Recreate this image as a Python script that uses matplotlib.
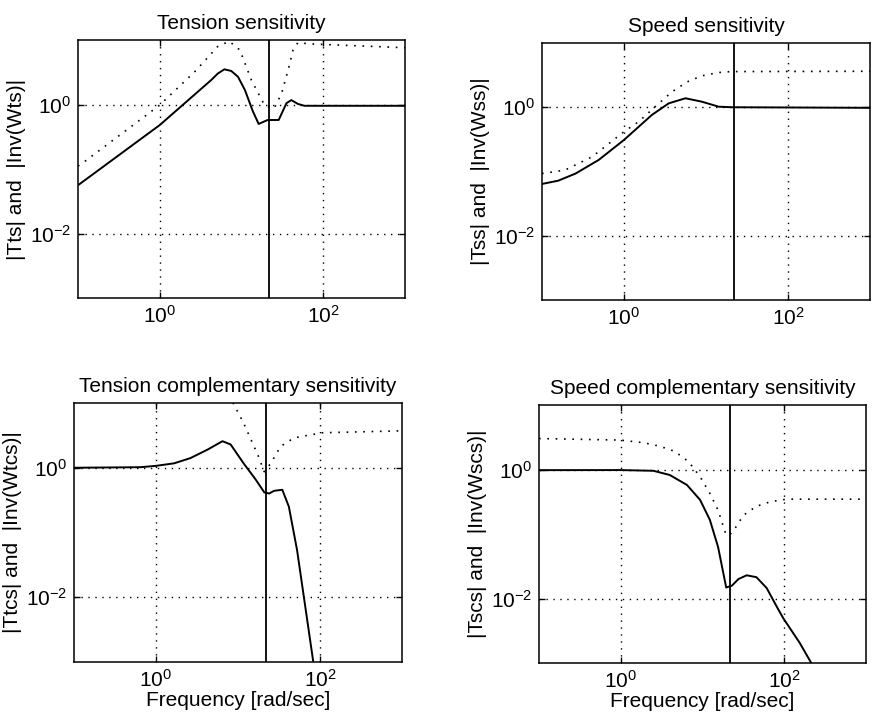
import numpy as np
import matplotlib
matplotlib.use('Agg')
import matplotlib.pyplot as plt
from matplotlib.ticker import FixedLocator, LogFormatterMathtext, NullLocator

plt.rcParams['font.family'] = ['Liberation Sans', 'DejaVu Sans']
plt.rcParams['mathtext.fontset'] = 'custom'
plt.rcParams['mathtext.rm'] = 'Liberation Sans'
plt.rcParams['mathtext.it'] = 'Liberation Sans:italic'

# bandwidth marker [rad/sec]
w_marker = 22.0

# Tension sensitivity
ts_w = [0.1, 1.0, 4.27, 5.13, 6.17, 7.5, 9.06, 11.0, 13.8, 16.2, 20.9, 28.5, 35.5, 40.7, 49.0, 58.9, 1000]
ts_mag = [0.056, 0.48, 2.4, 3.02, 3.51, 3.31, 2.69, 1.68, 0.78, 0.50, 0.575, 0.575, 1.05, 1.17, 1.02, 0.955, 0.955]
wts_w = [0.1, 0.12, 1.0, 2.69, 5.13, 7.08, 9.55, 13.2, 19.1, 25.1, 30.9, 37.2, 42.7, 49.0, 67.6, 1000]
wts_mag = [0.111, 0.130, 0.98, 3.24, 7.94, 9.55, 7.0, 2.40, 0.98, 0.87, 1.48, 3.43, 7.0, 9.12, 8.71, 7.59]

# Speed sensitivity
ss_w = [0.1, 0.158, 0.257, 0.49, 1.0, 2.19, 3.51, 5.62, 8.91, 14.3, 20.9, 1000]
ss_mag = [0.064, 0.072, 0.093, 0.151, 0.31, 0.76, 1.15, 1.38, 1.22, 1.02, 1.0, 0.98]
wss_w = [0.1, 0.19, 0.41, 1.0, 1.51, 2.40, 3.85, 5.89, 8.91, 14.3, 20.0, 1000]
wss_mag = [0.093, 0.105, 0.17, 0.417, 0.596, 1.02, 1.74, 2.48, 3.09, 3.47, 3.59, 3.63]

# Tension complementary sensitivity
tcs_w = [0.1, 0.65, 1.0, 1.66, 2.63, 4.27, 6.46, 8.13, 11.7, 16.4, 20.9, 24.0, 27.5, 34.7, 41.7, 52.5, 82.2, 126]
tcs_mag = [1.0, 1.02, 1.07, 1.17, 1.41, 1.91, 2.57, 2.29, 1.17, 0.66, 0.417, 0.40, 0.44, 0.457, 0.251, 0.0537,
           0.00107, 0.0000316]
wtcs_w = [6.31, 8.71, 11.6, 14.7, 17.7, 20.9, 25.1, 33.1, 47.9, 70.0, 107, 1000]
wtcs_mag = [22.4, 10.0, 5.01, 2.57, 1.51, 0.87, 1.17, 2.14, 2.88, 3.16, 3.47, 3.72]

# Speed complementary sensitivity
scs_w = [0.1, 0.98, 2.51, 3.98, 6.46, 9.33, 12.3, 15.5, 19.5, 22.9, 27.5, 34.7, 45.7, 61.0, 81.3, 97.7, 155, 214, 316]
scs_mag = [0.977, 0.98, 0.955, 0.822, 0.575, 0.339, 0.166, 0.063, 0.0148, 0.0158, 0.020, 0.0229, 0.0214, 0.0145,
           0.0074, 0.0049, 0.00204, 0.0010, 0.00045]
wscs_w = [0.1, 0.98, 1.91, 3.02, 4.57, 6.76, 9.33, 12.3, 15.5, 19.5, 22.4, 25.1, 31.6, 45.7, 67.6, 107, 1000]
wscs_mag = [3.02, 2.86, 2.60, 2.29, 1.91, 1.32, 0.776, 0.427, 0.234, 0.0955, 0.102, 0.123, 0.195, 0.269, 0.316,
            0.347, 0.347]

titles = ['Tension sensitivity', 'Speed sensitivity',
          'Tension complementary sensitivity', 'Speed complementary sensitivity']
ylabels = ['|Tts| and  |Inv(Wts)|', '|Tss| and  |Inv(Wss)|',
           '|Ttcs| and  |Inv(Wtcs)|', '|Tscs| and  |Inv(Wscs)|']
xticks = [1e0, 1e2]
yticks = [1e-2, 1e0]

panels = [(ts_w, ts_mag, wts_w, wts_mag), (ss_w, ss_mag, wss_w, wss_mag),
          (tcs_w, tcs_mag, wtcs_w, wtcs_mag), (scs_w, scs_mag, wscs_w, wscs_mag)]

# axes boxes in pixels (left, top, right, bottom)
boxes = [(78, 40, 405, 298), (542, 43, 870, 300), (74, 403, 402, 662), (539, 405, 866, 663)]

W, H = 873, 724
fig = plt.figure(figsize=(W / 100, H / 100), dpi=100)
dot = (0, (1, 4))
fs = 15

for i, (box, data) in enumerate(zip(boxes, panels)):
    l, t, r, b = box
    ax = fig.add_axes([l / W, (H - b) / H, (r - l) / W, (b - t) / H])
    tw, tm, iw, im = data
    ax.loglog(tw, tm, color='k', lw=1.4)
    ax.loglog(iw, im, color='k', lw=1.2, linestyle=dot)
    ax.axvline(w_marker, color='k', lw=1.3)
    ax.set_xlim(1e-1, 1e3)
    ax.set_ylim(1e-3, 1e1)
    ax.xaxis.set_major_locator(FixedLocator(xticks))
    ax.yaxis.set_major_locator(FixedLocator(yticks))
    ax.xaxis.set_major_formatter(LogFormatterMathtext())
    ax.yaxis.set_major_formatter(LogFormatterMathtext())
    ax.xaxis.set_minor_locator(NullLocator())
    ax.yaxis.set_minor_locator(NullLocator())
    ax.tick_params(direction='in', length=4, width=1, top=True, right=True, labelsize=fs, pad=5)
    ax.grid(True, color='k', lw=1.0, linestyle=dot)
    for s in ax.spines.values():
        s.set_linewidth(1.1)
    ax.set_title(titles[i], fontsize=fs, pad=8)
    ax.set_ylabel(ylabels[i], fontsize=fs, labelpad=3)
    if i >= 2:
        ax.set_xlabel('Frequency [rad/sec]', fontsize=fs, labelpad=0)

fig.savefig('out.png', dpi=100)
